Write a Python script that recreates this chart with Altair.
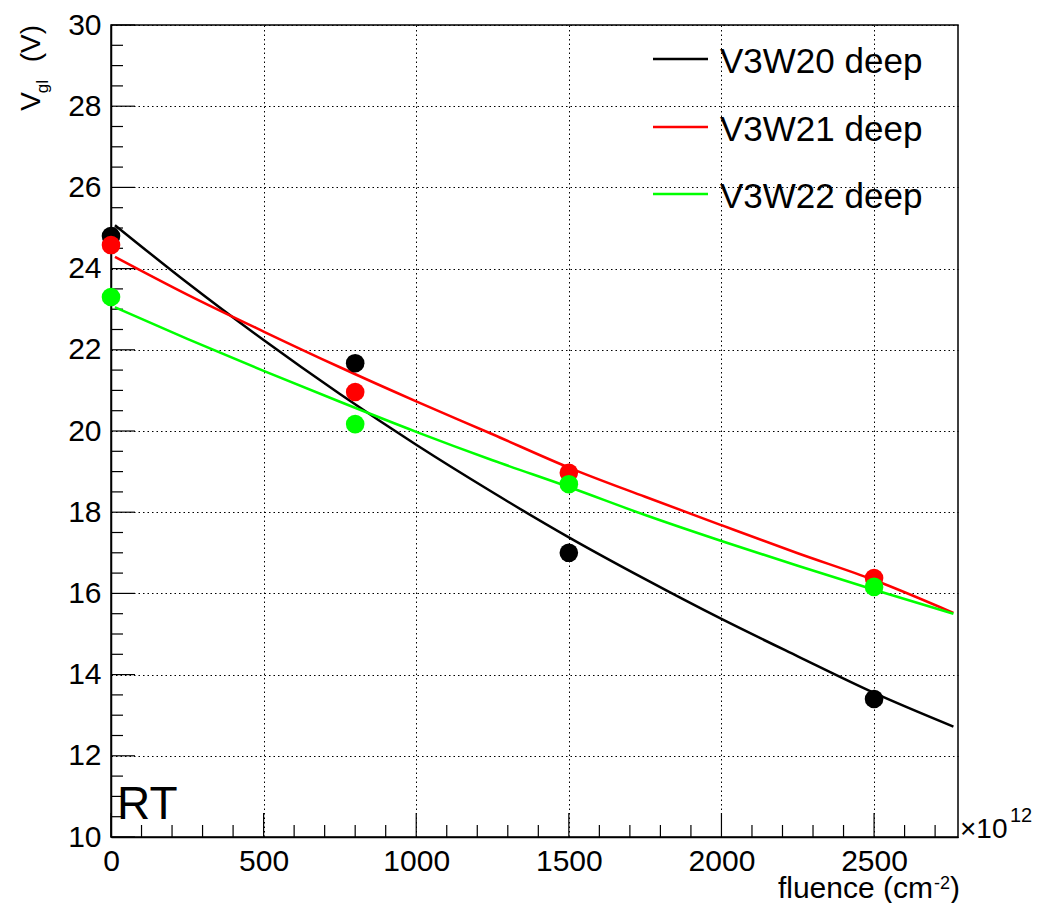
import altair as alt
import pandas as pd

FONT = "Liberation Sans"

series = ["V3W20 deep", "V3W21 deep", "V3W22 deep"]
colors = ["#000000", "#ff0000", "#00ff00"]

# measured points
fluence = [0, 800, 1500, 2500]
v_w20 = [24.80, 21.67, 17.00, 13.40]
v_w21 = [24.58, 20.96, 18.97, 16.38]
v_w22 = [23.30, 20.17, 18.69, 16.16]

# fit curves
fit_x = [13, 250, 500, 750, 1000, 1250, 1500, 1750, 2000, 2250, 2500, 2760]
fit_w20 = [25.07, 23.65, 22.24, 20.91, 19.66, 18.49, 17.38, 16.35, 15.37, 14.45, 13.55, 12.72]
fit_w21 = [24.29, 23.36, 22.45, 21.57, 20.73, 19.92, 19.10, 18.38, 17.68, 16.99, 16.33, 15.52]
fit_w22 = [23.05, 22.27, 21.48, 20.72, 19.98, 19.28, 18.62, 17.93, 17.29, 16.68, 16.09, 15.50]

x_major = [0, 500, 1000, 1500, 2000, 2500]
x_minor = [100, 200, 300, 400, 600, 700, 800, 900, 1100, 1200, 1300, 1400,
           1600, 1700, 1800, 1900, 2100, 2200, 2300, 2400, 2600, 2700]
y_major = [10, 12, 14, 16, 18, 20, 22, 24, 26, 28, 30]
y_minor = [10.5, 11, 11.5, 12.5, 13, 13.5, 14.5, 15, 15.5, 16.5, 17, 17.5,
           18.5, 19, 19.5, 20.5, 21, 21.5, 22.5, 23, 23.5, 24.5, 25, 25.5,
           26.5, 27, 27.5, 28.5, 29, 29.5]

W, H = 847, 812
X_DOMAIN = [0, 2775]
Y_DOMAIN = [10, 30]

pts = pd.concat([
    pd.DataFrame({"series": s, "x": fluence, "y": v})
    for s, v in zip(series, [v_w20, v_w21, v_w22])
])
fits = pd.concat([
    pd.DataFrame({"series": s, "x": fit_x, "y": v})
    for s, v in zip(series, [fit_w20, fit_w21, fit_w22])
])

xscale = alt.Scale(domain=X_DOMAIN, nice=False, zero=False)
yscale = alt.Scale(domain=Y_DOMAIN, nice=False, zero=False)
color = alt.Color("series:N", scale=alt.Scale(domain=series, range=colors), legend=None)

X = alt.X("x:Q", scale=xscale, title=None,
          axis=alt.Axis(values=x_major, ticks=False, grid=True, gridDash=[1.5, 3],
                        gridColor="black", gridWidth=1, labelFontSize=30, labelFont=FONT,
                        labelColor="black", labelPadding=9, labelFlush=False,
                        labelOverlap=False, domainColor="black", domainWidth=1.5,
                        format="d"))
Y = alt.Y("y:Q", scale=yscale, title=None,
          axis=alt.Axis(values=y_major, ticks=False, grid=True, gridDash=[1.5, 3],
                        gridColor="black", gridWidth=1, labelFontSize=30, labelFont=FONT,
                        labelColor="black", labelPadding=10, labelFlush=False,
                        labelOverlap=False, domainColor="black", domainWidth=1.5,
                        format="d"))

lines = alt.Chart(fits).mark_line(strokeWidth=2.5, interpolate="monotone").encode(
    x=X, y=Y, color=color, detail="series:N")

point_layers = [
    alt.Chart(pts[pts.series == s]).mark_circle(size=346, opacity=1).encode(x=X, y=Y, color=color)
    for s in series
]

# inside ticks (ROOT style)
xt_major = alt.Chart(pd.DataFrame({"x": x_major})).mark_rule(color="black", strokeWidth=1.2).encode(
    x=alt.X("x:Q", scale=xscale), y=alt.value(H), y2=alt.value(H - 24))
xt_minor = alt.Chart(pd.DataFrame({"x": x_minor})).mark_rule(color="black", strokeWidth=1.2).encode(
    x=alt.X("x:Q", scale=xscale), y=alt.value(H), y2=alt.value(H - 12))
yt_major = alt.Chart(pd.DataFrame({"y": y_major})).mark_rule(color="black", strokeWidth=1.2).encode(
    y=alt.Y("y:Q", scale=yscale), x=alt.value(0), x2=alt.value(24))
yt_minor = alt.Chart(pd.DataFrame({"y": y_minor})).mark_rule(color="black", strokeWidth=1.2).encode(
    y=alt.Y("y:Q", scale=yscale), x=alt.value(0), x2=alt.value(12))

one = pd.DataFrame({"a": [0]})


def label(text, x, y, size, align="left", angle=0):
    kw = dict(text=text, fontSize=size, font=FONT, align=align,
              baseline="alphabetic", color="black")
    if angle:
        kw["angle"] = angle
    return alt.Chart(one).mark_text(**kw).encode(x=alt.value(x), y=alt.value(y))


annotations = [
    # y title  V_gl (V)
    label("V", -71, 67, 28, align="right", angle=270),
    label("gl", -63, 55, 17, align="right", angle=270),
    label("(V)", -71, 0, 28, align="right", angle=270),
    # x title  fluence (cm^-2)
    label("fluence (cm", 822, 873, 30, align="right"),
    label("-2", 823, 864, 18),
    label(")", 839, 873, 30),
    # exponent
    label("\u00d710", 849, 813, 28),
    label("12", 899, 797, 20),
    # RT
    label("RT", 6, 794, 46),
]

legend_y = [34, 102, 169]
legend_layers = []
for s, c, ly in zip(series, colors, legend_y):
    legend_layers.append(
        alt.Chart(one).mark_rule(color=c, strokeWidth=2.5).encode(
            x=alt.value(542), x2=alt.value(597), y=alt.value(ly)))
    legend_layers.append(label(s, 609, ly + 14, 35))

chart = alt.layer(
    xt_minor, xt_major, yt_minor, yt_major, lines, *point_layers,
    *legend_layers, *annotations
).properties(
    width=W, height=H,
    autosize=alt.AutoSizeParams(type="none"),
    padding={"left": 103, "top": 17, "right": 78, "bottom": 66},
    background="white",
).configure_view(stroke="black", strokeWidth=1.5)

chart.save("out.html", embed_options={"renderer": "svg", "actions": False})
